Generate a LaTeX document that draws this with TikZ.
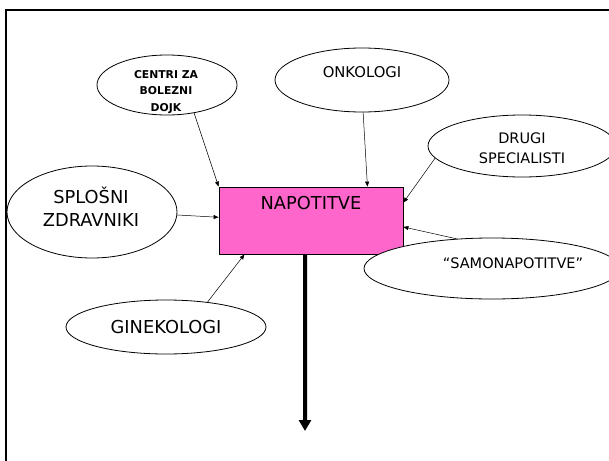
\documentclass[tikz,border=0pt]{standalone}
\usepackage{fontspec}
\setmainfont{DejaVu Sans}
\usetikzlibrary{arrows.meta,shapes.geometric}
\definecolor{napink}{HTML}{FF66CC}
\tikzset{
  bubble/.style={draw=black, line width=0.8pt, fill=white, ellipse, inner sep=0pt},
  lbl/.style={inner sep=0pt, align=center},
  thin arrow/.style={draw=black, line width=0.5pt, -{Triangle[length=5pt,width=4pt]}},
  thick arrow/.style={draw=black, line width=4pt, -{Triangle[length=11pt,width=12pt]}},
  mainbox/.style={draw=black, line width=0.8pt, fill=napink, rectangle, inner sep=0pt,
     minimum width=184pt, minimum height=67pt}
}
\begin{document}
\begin{tikzpicture}[x=1pt,y=-1pt]
\useasboundingbox (0,0) rectangle (609,460);
\fill[white] (0,0) rectangle (609,460);
\draw[line width=2pt] (6,475) -- (6,10) -- (625,10);

\node[mainbox] (box) at (311,220.5) {};
\node[lbl, font=\fontsize{17.8}{22}\selectfont] (boxT) at (311,203) {NAPOTITVE};

\node[bubble, minimum width=140pt, minimum height=60pt] (centri) at (167,85) {};
\node[lbl, font=\bfseries\fontsize{10.8}{16.5}\selectfont] (centriT) at (166,92) {CENTRI ZA\\BOLEZNI\\DOJK};

\node[bubble, minimum width=174pt, minimum height=64pt] (onk) at (362,80) {};
\node[lbl, font=\fontsize{14.8}{18}\selectfont] (onkT) at (362,72) {ONKOLOGI};

\node[bubble, minimum width=188pt, minimum height=62pt] (dru) at (522,146) {};
\node[lbl, font=\fontsize{14.5}{20}\selectfont] (druT) at (522,148) {DRUGI\\SPECIALISTI};

\node[bubble, minimum width=170pt, minimum height=92pt] (spl) at (92,212) {};
\node[lbl, font=\fontsize{17.8}{23}\selectfont] (splT) at (91,207) {SPLOŠNI\\ZDRAVNIKI};

\node[bubble, minimum width=256pt, minimum height=61pt] (samo) at (492,268.5) {};
\node[lbl, font=\fontsize{14.5}{18}\selectfont] (samoT) at (513,263) {“SAMONAPOTITVE”};

\node[bubble, minimum width=200pt, minimum height=54pt] (gin) at (166,327) {};
\node[lbl, font=\fontsize{17.8}{22}\selectfont] (ginT) at (166,327) {GINEKOLOGI};

\draw[thin arrow] (centri.-46) -- (box.north west);
\draw[thin arrow] (onk.-88) -- (box.31.3);
\draw[thin arrow] (dru.188) -- (box.11.4);
\draw[thin arrow] (spl.-2) -- (box.178.4);
\draw[thin arrow] (samo.140) -- (box.-4.7);
\draw[thin arrow] (gin.31) -- (box.-153.1);
\coordinate (outEnd) at (305,431);
\draw[thick arrow] (box.-100.2) -- (outEnd);
\end{tikzpicture}
\end{document}
